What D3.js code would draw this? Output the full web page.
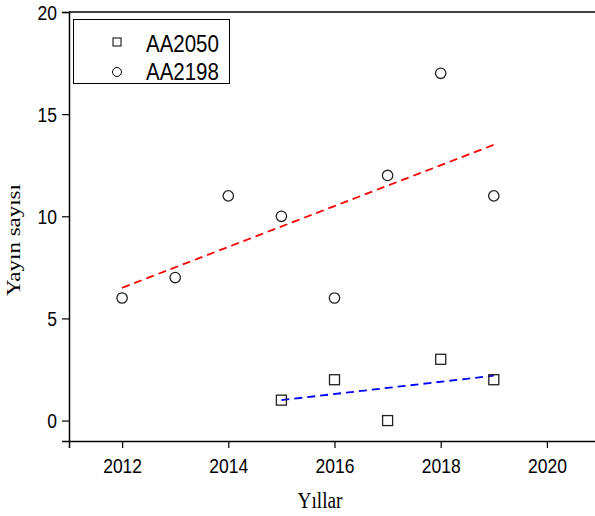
<!DOCTYPE html>
<html>
<head>
<meta charset="utf-8">
<script src="https://cdn.jsdelivr.net/npm/d3@7"></script>
<style>
  body { margin: 0; background: #fff; }
  svg { display: block; }
</style>
</head>
<body>
<svg width="595" height="516"></svg>
<script>
// data
var yearsA = [2015, 2016, 2017, 2018, 2019];
var valuesA = [1, 2, 0, 3, 2];              // AA2050
var yearsB = [2012, 2013, 2014, 2015, 2016, 2017, 2018, 2019];
var valuesB = [6, 7, 11, 10, 6, 12, 17, 11]; // AA2198
var xTicks = [2012, 2014, 2016, 2018, 2020];
var yTicks = [0, 5, 10, 15, 20];

var svg = d3.select("svg");
var sans = "Liberation Sans, Arial, sans-serif",
    serif = "Liberation Serif, Times New Roman, serif",
    stretch = 1.19; // the original text is drawn a bit taller than wide

var x = d3.scaleLinear().domain([2011, 2021]).range([69, 600]);
var y = d3.scaleLinear().domain([-1, 20]).range([441, 12]);

// least squares fit
function fit(xs, ys) {
  var mx = d3.mean(xs), my = d3.mean(ys);
  var sxy = d3.sum(xs, function(v, i) { return (v - mx) * (ys[i] - my) });
  var sxx = d3.sum(xs, function(v) { return (v - mx) * (v - mx) });
  var b = sxy / sxx;
  return function(v) { return my + b * (v - mx) };
}

// top line
svg.append("line")
  .attr("x1", 69).attr("x2", 595).attr("y1", 12).attr("y2", 12)
  .attr("stroke", "black").attr("stroke-width", 1.5);

// x axis
var gx = svg.append("g").attr("transform", "translate(0,441)");
gx.call(d3.axisBottom(x).tickValues(d3.range(2011, 2022)).tickSize(4).tickFormat(""));
gx.call(d3.axisBottom(x).tickValues(xTicks).tickSize(7).tickFormat(d3.format("d")));
gx.selectAll(".domain").attr("stroke-width", 1.5);
gx.selectAll("line").attr("stroke-width", 1.2);
gx.selectAll("text")
  .attr("y", null).attr("dy", null)
  .attr("transform", "translate(0,32) scale(1," + stretch + ")")
  .attr("font-family", sans).attr("font-size", 17.5).attr("fill", "black");

// y axis
var gy = svg.append("g").attr("transform", "translate(69,0)");
gy.call(d3.axisLeft(y).tickValues(d3.range(0, 20.1, 2.5)).tickSize(4).tickFormat(""));
gy.call(d3.axisLeft(y).tickValues(yTicks).tickSize(7).tickFormat(d3.format("d")));
gy.selectAll(".domain").attr("stroke-width", 1.5);
gy.selectAll("line").attr("stroke-width", 1.2);
gy.selectAll("text")
  .attr("x", null).attr("dy", null)
  .attr("transform", "translate(-12,7.4) scale(1," + stretch + ")")
  .attr("font-family", sans).attr("font-size", 17.5).attr("fill", "black");

// fit lines
var fA = fit(yearsA, valuesA), fB = fit(yearsB, valuesB);
svg.append("line")
  .attr("x1", x(yearsB[0])).attr("y1", y(fB(yearsB[0])))
  .attr("x2", x(yearsB[yearsB.length - 1])).attr("y2", y(fB(yearsB[yearsB.length - 1])))
  .attr("stroke", "#ff0000").attr("stroke-width", 1.8).attr("stroke-dasharray", "8,5");
svg.append("line")
  .attr("x1", x(yearsA[0])).attr("y1", y(fA(yearsA[0])))
  .attr("x2", x(yearsA[yearsA.length - 1])).attr("y2", y(fA(yearsA[yearsA.length - 1])))
  .attr("stroke", "#0000ff").attr("stroke-width", 1.8).attr("stroke-dasharray", "8,5");

// points
svg.append("g").selectAll("rect")
  .data(yearsA)
  .enter()
  .append("rect")
    .attr("x", function(d) { return x(d) - 5 })
    .attr("y", function(d, i) { return y(valuesA[i]) - 5 })
    .attr("width", 10).attr("height", 10)
    .attr("fill", "none").attr("stroke", "#222").attr("stroke-width", 1.3);

svg.append("g").selectAll("circle")
  .data(yearsB)
  .enter()
  .append("circle")
    .attr("cx", function(d) { return x(d) })
    .attr("cy", function(d, i) { return y(valuesB[i]) })
    .attr("r", 5.2)
    .attr("fill", "none").attr("stroke", "#222").attr("stroke-width", 1.3);

// legend
var lg = svg.append("g");
lg.append("rect").attr("x", 73.5).attr("y", 19.5).attr("width", 156).attr("height", 64)
  .attr("fill", "white").attr("stroke", "black").attr("stroke-width", 1);
lg.append("rect").attr("x", 113).attr("y", 38).attr("width", 8).attr("height", 8)
  .attr("fill", "none").attr("stroke", "black");
lg.append("circle").attr("cx", 117).attr("cy", 72).attr("r", 4.5)
  .attr("fill", "none").attr("stroke", "black");
lg.append("text").attr("transform", "translate(146,52) scale(1," + stretch + ")").text("AA2050");
lg.append("text").attr("transform", "translate(146,80) scale(1," + stretch + ")").text("AA2198");
lg.selectAll("text").attr("font-family", sans).attr("font-size", 20.5);

// axis titles
svg.append("text")
  .attr("transform", "translate(320,508) scale(1," + stretch + ")")
  .attr("text-anchor", "middle")
  .attr("font-family", serif).attr("font-size", 19.3)
  .text("Yıllar");
svg.append("text")
  .attr("transform", "translate(20,240) rotate(-90) scale(" + stretch + ",1)")
  .attr("text-anchor", "middle")
  .attr("font-family", serif).attr("font-size", 19.3)
  .text("Yayın sayısı");
</script>
</body>
</html>
